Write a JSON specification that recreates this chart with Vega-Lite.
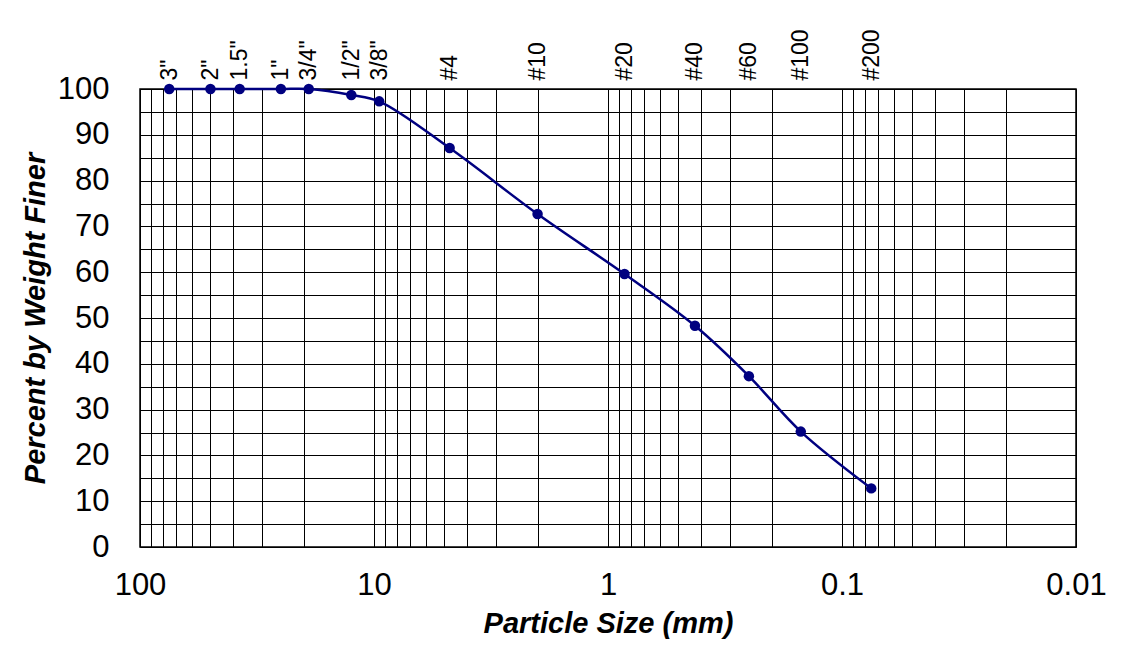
{
  "$schema": "https://vega.github.io/schema/vega-lite/v6.json",
  "width": 936,
  "height": 458,
  "autosize": {"type": "none"},
  "padding": {"left": 140, "top": 89, "right": 55, "bottom": 114},
  "background": "white",
  "config": {
    "font": "Liberation Sans",
    "view": {"stroke": "#000", "strokeWidth": 1.5}
  },
  "data": {
    "values": [
      {"sieve": "3\"", "size": 75, "pct": 100},
      {"sieve": "2\"", "size": 50, "pct": 100},
      {"sieve": "1.5\"", "size": 37.5, "pct": 100},
      {"sieve": "1\"", "size": 25, "pct": 100},
      {"sieve": "3/4\"", "size": 19, "pct": 100},
      {"sieve": "1/2\"", "size": 12.5, "pct": 98.7},
      {"sieve": "3/8\"", "size": 9.5, "pct": 97.3},
      {"sieve": "#4", "size": 4.75, "pct": 87.1},
      {"sieve": "#10", "size": 2.0, "pct": 72.7},
      {"sieve": "#20", "size": 0.85, "pct": 59.6},
      {"sieve": "#40", "size": 0.425, "pct": 48.3},
      {"sieve": "#60", "size": 0.25, "pct": 37.3},
      {"sieve": "#100", "size": 0.15, "pct": 25.2},
      {"sieve": "#200", "size": 0.075, "pct": 12.8}
    ]
  },
  "layer": [
    {
      "mark": {"type": "line", "color": "#000080", "strokeWidth": 2.5, "interpolate": "catmull-rom"},
      "encoding": {
        "x": {
          "field": "size",
          "type": "quantitative",
          "scale": {"type": "log", "domain": [0.01, 100], "reverse": true, "nice": false},
          "axis": {
            "orient": "bottom",
            "values": [0.01, 0.02, 0.03, 0.04, 0.05, 0.06, 0.07, 0.08, 0.09, 0.1, 0.2, 0.3, 0.4, 0.5, 0.6, 0.7, 0.8, 0.9, 1, 2, 3, 4, 5, 6, 7, 8, 9, 10, 20, 30, 40, 50, 60, 70, 80, 90, 100],
            "format": "~g",
            "labelExpr": "indexof([0.01,0.1,1,10,100], datum.value) >= 0 ? datum.label : ''",
            "grid": true,
            "gridColor": "#000",
            "gridWidth": 1,
            "gridOpacity": 1,
            "ticks": false,
            "tickSize": 0,
            "domain": false,
            "labelFontSize": 31,
            "labelColor": "#000",
            "labelPadding": 23,
            "labelOverlap": false,
            "labelBound": false,
            "labelFlush": false,
            "title": "Particle Size (mm)",
            "titleFontSize": 29,
            "titleFontStyle": "italic",
            "titleFontWeight": "bold",
            "titleColor": "#000",
            "titlePadding": 9
          }
        },
        "y": {
          "field": "pct",
          "type": "quantitative",
          "scale": {"domain": [0, 100], "nice": false},
          "axis": {
            "values": [0, 5, 10, 15, 20, 25, 30, 35, 40, 45, 50, 55, 60, 65, 70, 75, 80, 85, 90, 95, 100],
            "labelExpr": "datum.value % 10 == 0 ? datum.label : ''",
            "grid": true,
            "gridColor": "#000",
            "gridWidth": 1,
            "gridOpacity": 1,
            "ticks": false,
            "tickSize": 0,
            "domain": false,
            "labelFontSize": 31,
            "labelColor": "#000",
            "labelPadding": 31,
            "labelOverlap": false,
            "labelBound": false,
            "labelFlush": false,
            "title": "Percent by Weight Finer",
            "titleFontSize": 29,
            "titleFontStyle": "italic",
            "titleFontWeight": "bold",
            "titleColor": "#000",
            "titlePadding": 7
          }
        }
      }
    },
    {
      "mark": {"type": "point", "filled": true, "color": "#000080", "size": 110, "opacity": 1},
      "encoding": {
        "x": {
          "field": "size",
          "type": "quantitative",
          "axis": {
            "orient": "top",
            "values": [75, 50, 37.5, 25, 19, 12.5, 9.5, 4.75, 2, 0.85, 0.425, 0.25, 0.15, 0.075],
            "labelExpr": "['3\"','2\"','1.5\"','1\"','3/4\"','1/2\"','3/8\"','#4','#10','#20','#40','#60','#100','#200'][indexof([75,50,37.5,25,19,12.5,9.5,4.75,2,0.85,0.425,0.25,0.15,0.075], datum.value)]",
            "labelAngle": -90,
            "labelAlign": "left",
            "labelBaseline": "middle",
            "labelFontSize": 23,
            "labelColor": "#000",
            "labelPadding": 9,
            "labelOverlap": false,
            "labelBound": false,
            "labelFlush": false,
            "grid": false,
            "ticks": false,
            "tickSize": 0,
            "domain": false,
            "title": null
          }
        },
        "y": {"field": "pct", "type": "quantitative", "axis": null}
      }
    }
  ],
  "resolve": {"axis": {"x": "independent", "y": "independent"}}
}
